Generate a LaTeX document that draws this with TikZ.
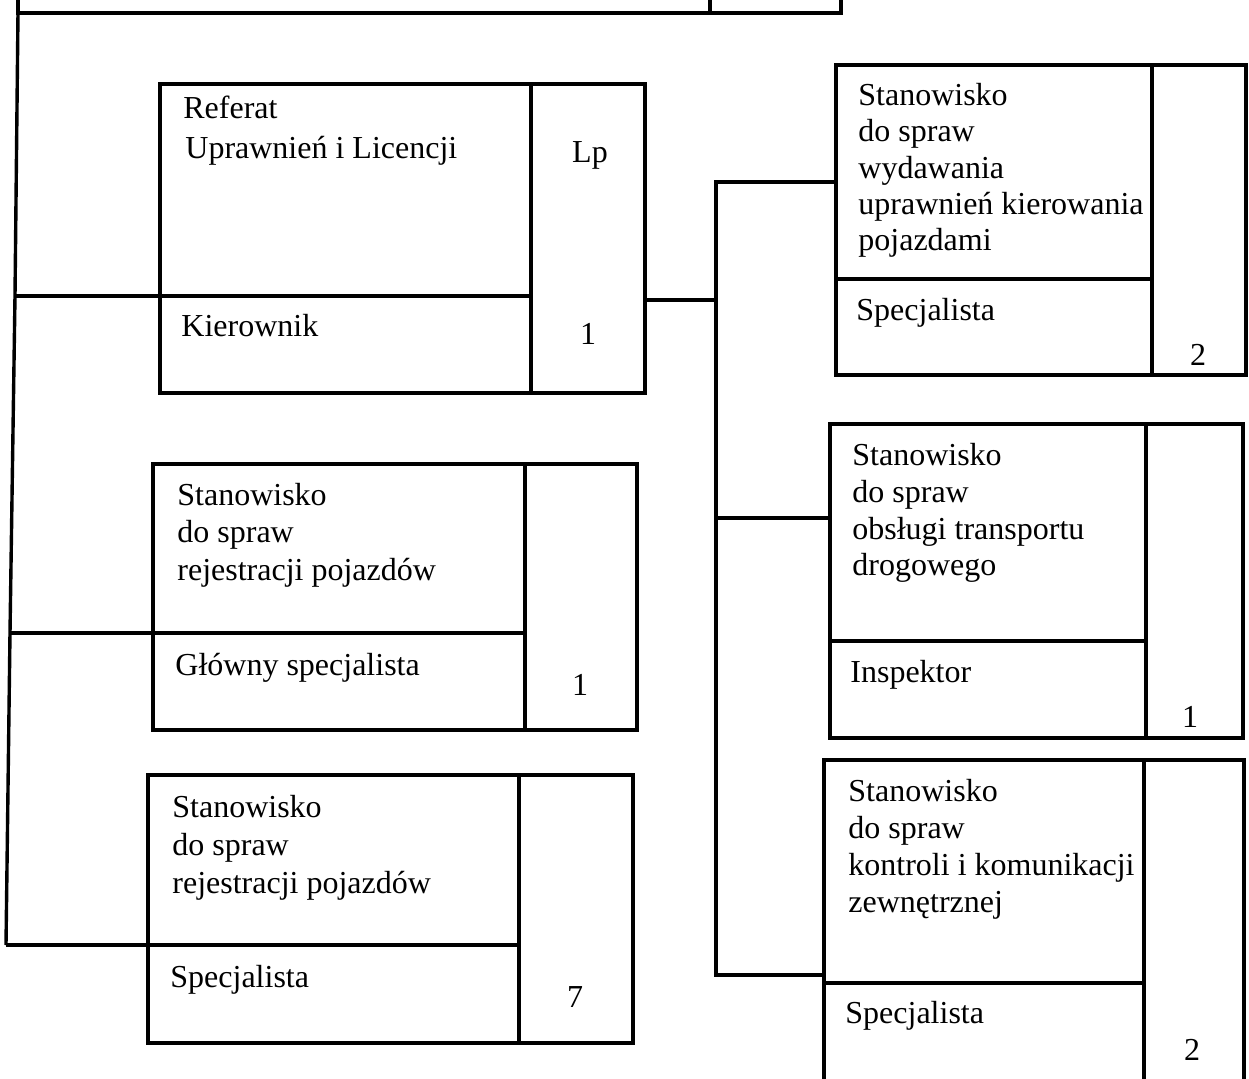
\documentclass[tikz,border=0pt]{standalone}
\usepackage{fontspec}
\setmainfont{Liberation Serif}
\newcommand\cellbox[5]{\node[cell, minimum width=#4*0.5pt, minimum height=#5*0.5pt] (#1) at (#2,#3) {};}
\newcommand\tline[4]{\node[txt] (#1) at (#2,#3) {#4};}
\newcommand\tnum[4]{\node[num] (#1) at (#2,#3) {#4};}
\begin{document}
\begin{tikzpicture}[x=0.5pt,y=-0.5pt,
  cell/.style={draw, line width=1.7pt, anchor=north west, inner sep=0pt, outer sep=0pt},
  wire/.style={draw, line width=1.7pt},
  txt/.style={anchor=base west, inner sep=0pt, font=\fontsize{16}{18}\selectfont},
  num/.style={anchor=base, inner sep=0pt, font=\fontsize{16}{18}\selectfont}]
\useasboundingbox (0,0) rectangle (1249,1078);
\clip (0,0) rectangle (1249,1078);
% top (cut-off) box
\draw[wire] (18,-40) rectangle (841,13);
\draw[wire] (710,-40) -- (710,13);
% left column boxes
\cellbox{refU}{160}{84}{371}{212}
\cellbox{refL}{160}{296}{371}{97}
\cellbox{refC}{531}{84}{114}{309}
\cellbox{l2U}{153}{464}{372}{169}
\cellbox{l2L}{153}{633}{372}{97}
\cellbox{l2C}{525}{464}{112}{266}
\cellbox{l3U}{148}{775}{371}{170}
\cellbox{l3L}{148}{945}{371}{98}
\cellbox{l3C}{519}{775}{114}{268}
% right column boxes
\cellbox{r1U}{836}{65}{316}{214}
\cellbox{r1L}{836}{279}{316}{96}
\cellbox{r1C}{1152}{65}{94}{310}
\cellbox{r2U}{830}{424}{316}{217}
\cellbox{r2L}{830}{641}{316}{97}
\cellbox{r2C}{1146}{424}{97}{314}
\cellbox{r3U}{824}{760}{320}{223}
\cellbox{r3L}{824}{983}{320}{117}
\cellbox{r3C}{1144}{760}{100}{340}
% trunk on the left
\coordinate (t0) at (18,13);
\coordinate (t1) at (15,296);
\coordinate (t2) at (10,633);
\coordinate (t3) at (6,945);
\draw[wire] (t0) -- (t1) -- (t2) -- (t3);
\draw[wire] (t1) -- (refL.north west);
\draw[wire] (t2) -- (l2L.north west);
\draw[wire] (t3) -- (l3L.north west);
% bus on the right
\coordinate (bj) at (716,300);
\coordinate (b1) at (716,182);
\coordinate (b2) at (716,518);
\coordinate (b3) at (716,975);
\draw[wire] (refC.east |- bj) -- (bj);
\draw[wire] (r1U.west |- b1) -- (b1) -- (b3) -- (r3U.west |- b3);
\draw[wire] (b2) -- (r2U.west |- b2);
% texts
\tline{ta1}{183}{118}{Referat}
\tline{ta2}{185}{158}{Uprawnień i Licencji}
\tnum{ta3}{590}{162}{Lp}
\tline{ta4}{181}{336}{Kierownik}
\tnum{ta5}{588}{344}{1}
\tline{tb1}{177}{505}{Stanowisko}
\tline{tb2}{177}{542}{do spraw}
\tline{tb3}{177}{580}{rejestracji pojazdów}
\tline{tb4}{175}{675}{Główny specjalista}
\tnum{tb5}{580}{695}{1}
\tline{tc1}{172}{817}{Stanowisko}
\tline{tc2}{172}{855}{do spraw}
\tline{tc3}{172}{893}{rejestracji pojazdów}
\tline{tc4}{170}{987}{Specjalista}
\tnum{tc5}{575}{1007}{7}
\tline{td1}{858}{105}{Stanowisko}
\tline{td2}{858}{141}{do spraw}
\tline{td3}{858}{178}{wydawania}
\tline{td4}{858}{214}{uprawnień kierowania}
\tline{td5}{858}{250}{pojazdami}
\tline{td6}{856}{320}{Specjalista}
\tnum{td7}{1198}{365}{2}
\tline{te1}{852}{465}{Stanowisko}
\tline{te2}{852}{502}{do spraw}
\tline{te3}{852}{539}{obsługi transportu}
\tline{te4}{852}{575}{drogowego}
\tline{te5}{850}{682}{Inspektor}
\tnum{te6}{1190}{727}{1}
\tline{tf1}{848}{801}{Stanowisko}
\tline{tf2}{848}{838}{do spraw}
\tline{tf3}{848}{875}{kontroli i komunikacji}
\tline{tf4}{848}{912}{zewnętrznej}
\tline{tf5}{845}{1023}{Specjalista}
\tnum{tf6}{1192}{1060}{2}
\end{tikzpicture}
\end{document}
